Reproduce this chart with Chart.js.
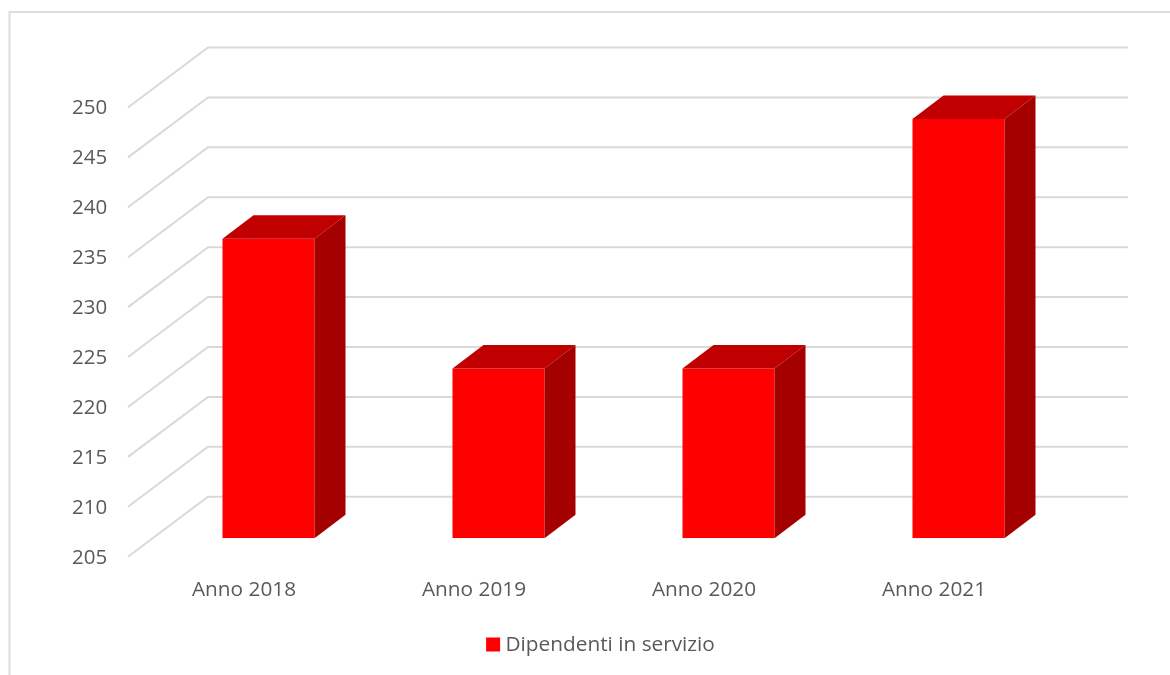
<!DOCTYPE html>
<html>
<head>
<meta charset="utf-8">
<style>html,body{margin:0;padding:0;background:#fff}#w{width:1170px;height:675px}</style>
<script src="https://cdn.jsdelivr.net/npm/chart.js@4"></script>
</head>
<body>
<div id="w"><canvas id="c" width="1170" height="675"></canvas></div>
<script>
const categories = ["Anno 2018", "Anno 2019", "Anno 2020", "Anno 2021"];
const seriesName = "Dipendenti in servizio";
const employees = [235, 222, 222, 247];
const axisMin = 205;
const axisMax = 250;
const axisStep = 5;

const FONT = '"Open Sans", sans-serif';
const TEXT = '#595959';
const GRID = '#d9d9d9';

const depth3d = {
  id: 'depth3d',
  beforeDraw(chart) {
    const c = chart.ctx;
    c.save();
    c.fillStyle = '#fff';
    c.fillRect(0, 0, chart.width, chart.height);
    c.strokeStyle = '#dcdcdc';
    c.lineWidth = 2;
    c.beginPath();
    c.moveTo(chart.width, 12);
    c.lineTo(9.5, 12);
    c.lineTo(9.5, chart.height);
    c.stroke();
    c.restore();
  },
  beforeDatasetsDraw(chart) {
    const c = chart.ctx, s = chart.scales.y;
    c.save();
    c.strokeStyle = GRID;
    s.ticks.forEach(t => {
      const y = s.getPixelForValue(t.value);
      c.lineWidth = 2;
      c.beginPath();
      c.moveTo(128, y + 18.5);
      c.lineTo(208, y - 41.5);
      c.lineTo(1128, y - 41.5);
      c.stroke();
    });
    c.restore();
  },
  afterDatasetsDraw(chart) {
    const c = chart.ctx;
    const dx = 31, dy = 23.5;
    c.save();
    chart.getDatasetMeta(0).data.forEach(b => {
      const l = b.x - b.width / 2, r = b.x + b.width / 2;
      c.fillStyle = '#c00000';
      c.beginPath();
      c.moveTo(l, b.y);
      c.lineTo(l + dx, b.y - dy);
      c.lineTo(r + dx, b.y - dy);
      c.lineTo(r, b.y);
      c.closePath();
      c.fill();
      c.fillStyle = '#a40000';
      c.beginPath();
      c.moveTo(r, b.y);
      c.lineTo(r + dx, b.y - dy);
      c.lineTo(r + dx, b.base - dy);
      c.lineTo(r, b.base);
      c.closePath();
      c.fill();
    });
    c.restore();
  }
};

new Chart(document.getElementById('c'), {
  type: 'bar',
  plugins: [depth3d],
  data: {
    labels: categories,
    datasets: [{
      label: seriesName,
      data: employees,
      base: axisMin,
      backgroundColor: '#ff0000',
      borderWidth: 0,
      barPercentage: 0.4,
      categoryPercentage: 1
    }]
  },
  options: {
    responsive: false,
    animation: false,
    layout: { padding: { left: 132.5, right: 96.5, top: 89, bottom: 10 } },
    scales: {
      x: {
        grid: { display: false },
        border: { display: false },
        afterFit(s) { s.height = 86; },
        ticks: { color: TEXT, font: { family: FONT, size: 20.8 }, padding: 31.5, labelOffset: -24.5, maxRotation: 0 }
      },
      y: {
        min: axisMin,
        max: axisMax,
        grid: { display: false },
        border: { display: false },
        afterFit(s) { s.width = 21; },
        ticks: { stepSize: axisStep, mirror: true, labelOffset: 19.5, padding: -81.5, color: TEXT, font: { family: FONT, size: 20.5 } }
      }
    },
    plugins: {
      tooltip: { enabled: false },
      legend: {
        position: 'bottom',
        labels: {
          color: TEXT,
          font: { family: FONT, size: 20.8 },
          boxWidth: 4,
          boxHeight: 4,
          generateLabels(chart) {
            return Chart.defaults.plugins.legend.labels.generateLabels(chart).map(i => {
              i.lineWidth = 10;
              i.strokeStyle = '#ff0000';
              return i;
            });
          }
        }
      }
    }
  }
});
</script>
</body>
</html>
